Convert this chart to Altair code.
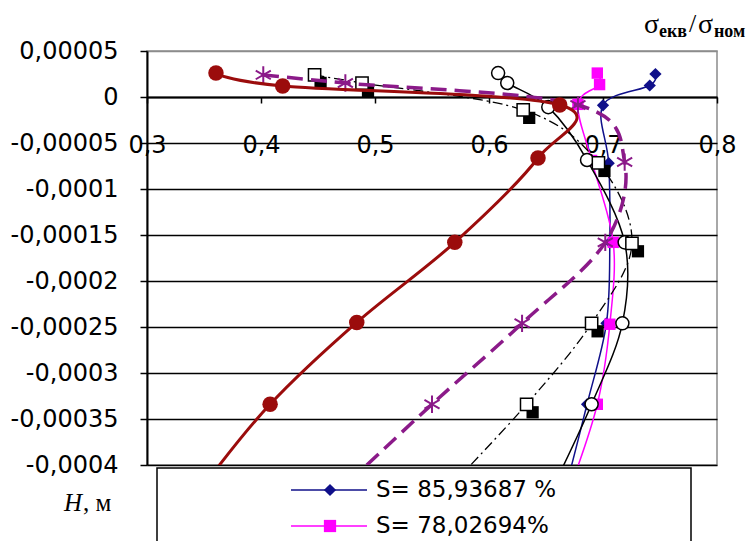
import altair as alt
import pandas as pd

# ---- data (x = sigma_ekv/sigma_nom, y = H, m) ----
# last value of each series lies below the visible range (line runs off the bottom)
navy_x = [0.746, 0.741, 0.700, 0.705, 0.706, 0.703, 0.686, 0.668]
navy_y = [0.000025, 0.0000125, -0.000009, -0.000072, -0.000158, -0.000246, -0.000334, -0.000422]

mag_x = [0.695, 0.697, 0.678, 0.690, 0.709, 0.706, 0.695, 0.672]
mag_y = [0.000026, 0.0000135, -0.000008, -0.000069, -0.000158, -0.000247, -0.000334, -0.000422]

circ_x = [0.608, 0.616, 0.652, 0.686, 0.719, 0.717, 0.690, 0.657]
circ_y = [0.000026, 0.0000152, -0.000011, -0.0000685, -0.000158, -0.000246, -0.000334, -0.000422]

sq_x = [0.447, 0.4886, 0.630, 0.696, 0.7254, 0.690, 0.633, 0.567]
sq_y = [0.000024, 0.0000152, -0.000014, -0.0000717, -0.000159, -0.000246, -0.000334, -0.000422]

star_x = [0.402, 0.474, 0.678, 0.719, 0.702, 0.629, 0.550, 0.474]
star_y = [0.000024, 0.0000152, -0.0000087, -0.0000707, -0.000158, -0.000246, -0.000334, -0.000422]

red_x = [0.3605, 0.419, 0.662, 0.643, 0.570, 0.484, 0.408, 0.350]
red_y = [0.000026, 0.000012, -0.0000087, -0.0000663, -0.000158, -0.000245, -0.000334, -0.000422]

x_ticks = [0.3, 0.4, 0.5, 0.6, 0.7, 0.8]
y_ticks = [0.00005, 0, -0.00005, -0.0001, -0.00015, -0.0002, -0.00025, -0.0003, -0.00035, -0.0004]

legend_labels = ["S= 85,93687 %", "S= 78,02694%"]
legend_colors = ["#10108a", "#ff00ff"]
legend_shapes = ["diamond", "square"]

W, H = 570, 414
comma = "replace(toString(datum.value), '.', ',')"

x_enc = alt.X(
    "x:Q",
    scale=alt.Scale(domain=[0.3, 0.8], nice=False, zero=False),
    axis=alt.Axis(
        orient="bottom", offset=-368, values=x_ticks, labelExpr=comma, title=None,
        grid=False, domainColor="black", domainWidth=2, tickColor="black",
        tickSize=6, tickWidth=1.5, labelFont="DejaVu Sans", labelFontSize=24,
        labelColor="black", labelPadding=30, labelFlush=False, labelOverlap=False,
    ),
)
y_enc = alt.Y(
    "y:Q",
    scale=alt.Scale(domain=[-0.0004, 0.00005], nice=False, zero=False),
    axis=alt.Axis(
        values=y_ticks, labelExpr=comma, title=None, grid=True,
        gridColor={"condition": {"test": "datum.value > 0.00004", "value": "#8c8c8c"}, "value": "black"},
        gridWidth=1.5, domainColor="black", domainWidth=2, tickColor="black",
        tickSize=7, tickWidth=1.5, labelFont="DejaVu Sans", labelFontSize=24,
        labelColor="black", labelPadding=22, labelOverlap=False, labelFlush=False,
    ),
)


def frame(xs, ys):
    return pd.DataFrame({"x": xs, "y": ys, "i": list(range(len(xs)))})


def series(xs, ys, color, width, dash=None, interp="cardinal"):
    kw = dict(color=color, strokeWidth=width, clip=True, interpolate=interp)
    if dash:
        kw["strokeDash"] = dash
    return alt.Chart(frame(xs, ys)).mark_line(**kw).encode(
        x=x_enc, y=y_enc, order=alt.Order("i:Q")
    )


def markers(xs, ys, **kw):
    return alt.Chart(frame(xs, ys)).mark_point(clip=True, opacity=1, **kw).encode(
        x=x_enc, y=y_enc
    )


asterisk = "M0,-1L0,1M-0.87,-0.5L0.87,0.5M-0.87,0.5L0.87,-0.5"

layers = [
    series(navy_x, navy_y, "#10108a", 1.5),
    markers(navy_x, navy_y, shape="diamond", filled=True, color="#10108a", size=150),
    series(mag_x, mag_y, "#ff00ff", 1.5),
    markers(mag_x, mag_y, shape="square", filled=True, color="#ff00ff", size=130),
    series(circ_x, circ_y, "black", 1.5),
    markers(circ_x, circ_y, shape="circle", filled=True, fill="white", stroke="black",
            strokeWidth=1.5, size=170),
    series(sq_x, sq_y, "black", 1.3, dash=[10, 4, 2, 4]),
    markers(sq_x, sq_y, shape="square", filled=True, color="black", size=150,
            xOffset=6, yOffset=8),
    markers(sq_x, sq_y, shape="square", filled=True, fill="white", stroke="black",
            strokeWidth=1.5, size=150),
    series(star_x, star_y, "#8b1a89", 3.5, dash=[16, 8]),
    markers(star_x, star_y, shape=asterisk, filled=False, stroke="#8b1a89",
            strokeWidth=2, size=300),
    series(red_x, red_y, "#9b0c0c", 3),
    markers(red_x, red_y, shape="circle", filled=True, color="#9b0c0c", size=240),
]

one = pd.DataFrame({"a": [0]})

# legend box (partly below the picture edge)
layers.append(
    alt.Chart(one).mark_rect(fill="white", stroke="black", strokeWidth=1.5).encode(
        x=alt.value(10), x2=alt.value(544), y=alt.value(417), y2=alt.value(540)
    )
)
for k, (lab, col, shp) in enumerate(zip(legend_labels, legend_colors, legend_shapes)):
    ly = 439 + 36 * k
    layers.append(alt.Chart(one).mark_rule(color=col, strokeWidth=1.5).encode(
        x=alt.value(144), x2=alt.value(220), y=alt.value(ly)))
    layers.append(alt.Chart(one).mark_point(shape=shp, filled=True, color=col, size=150, opacity=1).encode(
        x=alt.value(183), y=alt.value(ly)))
    layers.append(alt.Chart(one).mark_text(align="left", baseline="middle", font="DejaVu Sans",
                                           fontSize=23, color="black").encode(
        x=alt.value(229), y=alt.value(ly), text=alt.value(lab)))

# axis captions
serif = "Liberation Serif"
caps = [
    ("H", -83, 460, 25, "italic", "normal"),
    (", м", -64, 460, 25, "normal", "normal"),
    ("σ", 497, -18, 28, "normal", "normal"),
    ("екв", 512, -14, 18, "normal", "bold"),
    ("/", 542, -19, 26, "normal", "normal"),
    ("σ", 551, -18, 28, "normal", "normal"),
    ("ном", 567, -14, 18, "normal", "bold"),
]
for t, px, py, fs, fst, fw in caps:
    layers.append(alt.Chart(one).mark_text(align="left", baseline="alphabetic", font=serif,
                                           fontSize=fs, fontStyle=fst, fontWeight=fw,
                                           color="black").encode(
        x=alt.value(px), y=alt.value(py), text=alt.value(t)))

chart = alt.layer(*layers).properties(
    width=W, height=H,
    autosize=alt.AutoSizeParams(type="none"),
    padding={"left": 139, "top": 43, "right": 30, "bottom": 76},
    background="white",
).configure_view(stroke="#8c8c8c", strokeWidth=1.5)

chart.save("out.html", embed_options={"renderer": "svg", "actions": False})
